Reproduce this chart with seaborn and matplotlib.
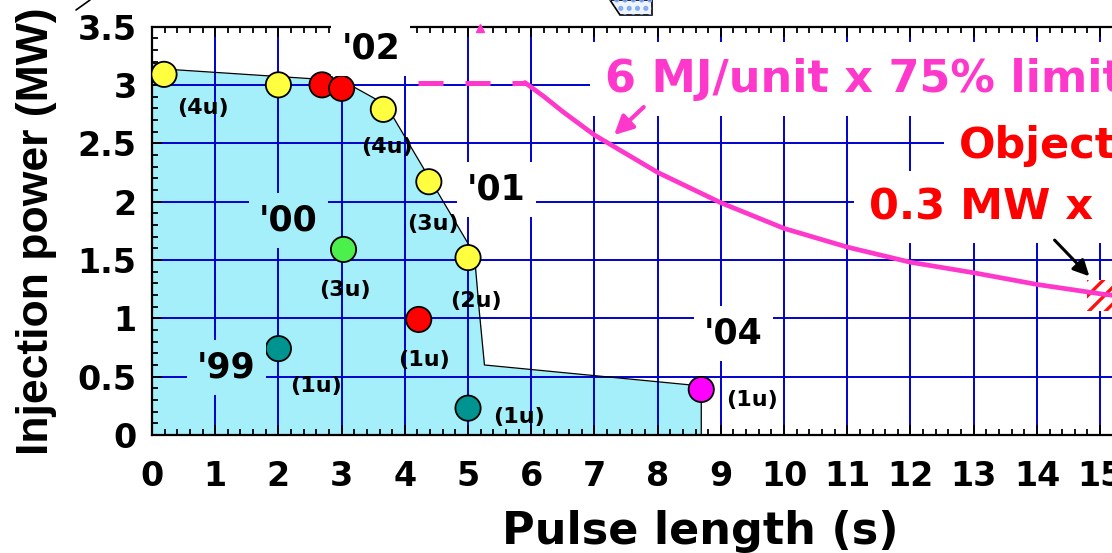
import matplotlib
matplotlib.use("Agg")
import numpy as np
import pandas as pd
import seaborn as sns
import matplotlib.pyplot as plt
from matplotlib.patches import Rectangle, Polygon
from matplotlib.ticker import MultipleLocator, FixedLocator, FuncFormatter
from matplotlib import font_manager as fm

# ---------------- data ----------------
pulse_len = [2.0, 5.0, 3.03, 0.19, 2.0, 3.66, 4.38, 5.0, 2.69, 3.0, 4.22, 8.69]
inj_power = [0.74, 0.23, 1.59, 3.09, 3.0, 2.79, 2.17, 1.52, 3.0, 2.97, 0.99, 0.39]
year = ["'99", "'99", "'00", "'01", "'01", "'01", "'01", "'01", "'02", "'02", "'02", "'04"]

# operational envelope (outline of the shaded region)
env_x = [0.0, 0.35, 2.6, 3.2, 3.7, 5.1, 5.18, 5.26, 8.69, 8.69]
env_y = [3.19, 3.13, 3.05, 2.98, 2.83, 1.55, 1.05, 0.60, 0.42, 0.0]

# 6 MJ/unit x 75% limit curve
lim_dash_x = [4.21, 5.9]
lim_dash_y = [3.02, 3.02]
lim_x = [5.9, 6.2, 6.5, 7.0, 8.0, 9.0, 10.0, 11.0, 12.0, 13.0, 14.0, 15.0, 15.6]
lim_y = [3.02, 2.90, 2.77, 2.57, 2.25, 1.99, 1.77, 1.61, 1.48, 1.39, 1.29, 1.21, 1.17]

# year labels
yr_text = ["'02", "'01", "'00", "'99", "'04"]
yr_x = [3.46, 5.45, 2.16, 1.18, 9.2]
yr_y = [3.31, 2.10, 1.84, 0.58, 0.87]
yr_face = ["white", "white", "#A4EFF9", "#A4EFF9", "white"]

# unit labels
u_text = ["(4u)", "(4u)", "(3u)", "(3u)", "(2u)", "(1u)", "(1u)", "(1u)", "(1u)"]
u_x = [0.80, 3.71, 4.44, 3.05, 5.12, 4.30, 2.59, 5.81, 9.49]
u_y = [2.80, 2.47, 1.81, 1.24, 1.15, 0.64, 0.42, 0.15, 0.30]

x_ticks = list(range(0, 18))
y_ticks = [0, 0.5, 1, 1.5, 2, 2.5, 3, 3.5]

palette = {"'99": "#009490", "'00": "#4CF04C", "'01": "#FFFF40",
           "'02": "#FF0000", "'04": "#FF00FF"}
MAG = "#FF38CC"
GRID = "#0000CC"
CYAN = "#A4EFF9"

# ---------------- style ----------------
sns.set_theme(style="white")
plt.rcParams["font.family"] = ["DejaVu Sans"]
plt.rcParams["text.color"] = "black"
plt.rcParams["axes.labelcolor"] = "black"
plt.rcParams["xtick.color"] = "black"
plt.rcParams["ytick.color"] = "black"
plt.rcParams["hatch.linewidth"] = 2.4


def has_font(name):
    try:
        fm.findfont(fm.FontProperties(family=name), fallback_to_default=False)
        return True
    except Exception:
        return False


fig = plt.figure(figsize=(11.12, 5.53), dpi=100)
fig.patch.set_facecolor("white")
ax = fig.add_axes([152 / 1112, 118 / 553, 1096 / 1112, 408.5 / 553])
ax.set_facecolor("white")
ax.set_xlim(0, 17.34)
ax.set_ylim(0, 3.5)

# envelope fill and outline
ax.fill_between(env_x, env_y, 0, color=CYAN, lw=0, zorder=1)
ax.plot(env_x, env_y, color="black", lw=0.9, zorder=3)

# grid
ax.set_axisbelow(False)
ax.xaxis.set_major_locator(FixedLocator(x_ticks))
ax.yaxis.set_major_locator(FixedLocator(y_ticks))
ax.xaxis.set_minor_locator(MultipleLocator(0.2))
ax.yaxis.set_minor_locator(MultipleLocator(0.1))
ax.grid(True, which="major", color=GRID, lw=1.4)
ax.grid(False, which="minor")
ax.yaxis.set_major_formatter(FuncFormatter(lambda v, p: f"{v:g}"))

ax.tick_params(axis="both", which="both", direction="in", colors="black",
               top=True, bottom=True, left=True, right=False)
ax.tick_params(axis="both", which="major", length=7, width=1.3)
ax.tick_params(axis="both", which="minor", length=4.5, width=1.3)
ax.tick_params(axis="x", which="major", pad=18, labelsize=24)
ax.tick_params(axis="y", which="major", pad=11, labelsize=24)
for lab in ax.get_xticklabels() + ax.get_yticklabels():
    lab.set_fontweight("bold")
    lab.set_color("black")

for s in ["left", "bottom", "top"]:
    ax.spines[s].set_color("black")
    ax.spines[s].set_linewidth(1.6)
    ax.spines[s].set_zorder(3.5)
ax.spines["right"].set_visible(False)

# objective target (hatched)
ax.add_patch(Rectangle((14.8, 1.06), 1.2, 0.27, facecolor="white",
                       edgecolor="#FF1010", lw=0, hatch="//", zorder=3))

# limit curve
ax.plot(lim_dash_x, lim_dash_y, color=MAG, lw=3.6, ls=(0, (5, 4.4)),
        solid_capstyle="butt", zorder=4)
sns.lineplot(x=lim_x, y=lim_y, color=MAG, lw=3.4, sort=False,
             estimator=None, ax=ax, zorder=4)
ax.plot([5.19], [3.49], marker="^", ms=6, color=MAG, clip_on=False, zorder=4)

# data points
df = pd.DataFrame({"Pulse length (s)": pulse_len,
                   "Injection power (MW)": inj_power, "year": year})
sns.scatterplot(data=df, x="Pulse length (s)", y="Injection power (MW)",
                hue="year", palette=palette, s=330, edgecolor="black",
                linewidth=1.3, legend=False, ax=ax, zorder=6)

# year labels
for t, x, y, fc in zip(yr_text, yr_x, yr_y, yr_face):
    ax.text(x, y, t, fontsize=25, fontweight="bold", ha="center", va="center",
            color="black", zorder=10,
            bbox=dict(boxstyle="square,pad=0.3", fc=fc, ec="none"))

# unit labels
for t, x, y in zip(u_text, u_x, u_y):
    ax.text(x, y, t, fontsize=16, fontweight="bold", ha="center",
            va="center", color="black", zorder=7)

# annotations
ax.text(7.17, 2.94, "6 MJ/unit x 75% limit", color=MAG, fontsize=32,
        fontweight="bold", ha="left", va="baseline", zorder=8,
        bbox=dict(boxstyle="square,pad=0.35", fc="white", ec="none"))
ax.annotate("", xy=(7.31, 2.57), xytext=(7.78, 2.81),
            arrowprops=dict(arrowstyle="-|>", color=MAG, lw=3,
                            mutation_scale=28, shrinkA=0, shrinkB=0),
            zorder=8)
ax.text(12.77, 2.37, "Objective", color="#FF0000", fontsize=31,
        fontweight="bold", ha="left", va="baseline", zorder=8,
        bbox=dict(boxstyle="square,pad=0.35", fc="white", ec="none"))
ax.text(11.35, 1.85, "0.3 MW x 100 s", color="#FF0000", fontsize=31,
        fontweight="bold", ha="left", va="baseline", zorder=8,
        bbox=dict(boxstyle="square,pad=0.35", fc="white", ec="none"))
ax.annotate("", xy=(14.83, 1.36), xytext=(14.28, 1.67),
            arrowprops=dict(arrowstyle="-|>", color="black", lw=2.2,
                            mutation_scale=24, shrinkA=0, shrinkB=0),
            zorder=8)

# axis labels
ax.set_xlabel("Pulse length (s)", fontsize=32, fontweight="bold",
              color="black")
ax.xaxis.set_label_coords(0.5, -0.183)
if has_font("Liberation Sans Narrow"):
    ax.set_ylabel("Injection power (MW)", fontsize=38, fontweight="bold",
                  family=["Liberation Sans Narrow", "DejaVu Sans"],
                  color="black")
elif has_font("Liberation Sans"):
    ax.set_ylabel("Injection power (MW)", fontsize=32, fontweight="bold",
                  family=["Liberation Sans", "DejaVu Sans"], color="black")
else:
    ax.set_ylabel("Injection power (MW)", fontsize=26, fontweight="bold",
                  color="black")
ax.yaxis.set_label_coords(-0.087, 0.5)

# clipped fragments of neighbouring slide elements
fig.add_artist(plt.Line2D([76 / 1112, 90 / 1112], [543 / 553, 1.0],
                          color="black", lw=1.2))
frag = [(610 / 1112, 1.0), (620 / 1112, 538 / 553), (652 / 1112, 538 / 553),
        (652 / 1112, 1.0)]
fig.add_artist(Polygon(frag, closed=True, fc="#EEF4FF", ec="black", lw=1.2,
                       transform=fig.transFigure))
fig.add_artist(Polygon(frag, closed=True, fc="none", ec="#7FA8F0", lw=0,
                       hatch="..", transform=fig.transFigure))

fig.savefig("out.png", dpi=100, facecolor="white")
